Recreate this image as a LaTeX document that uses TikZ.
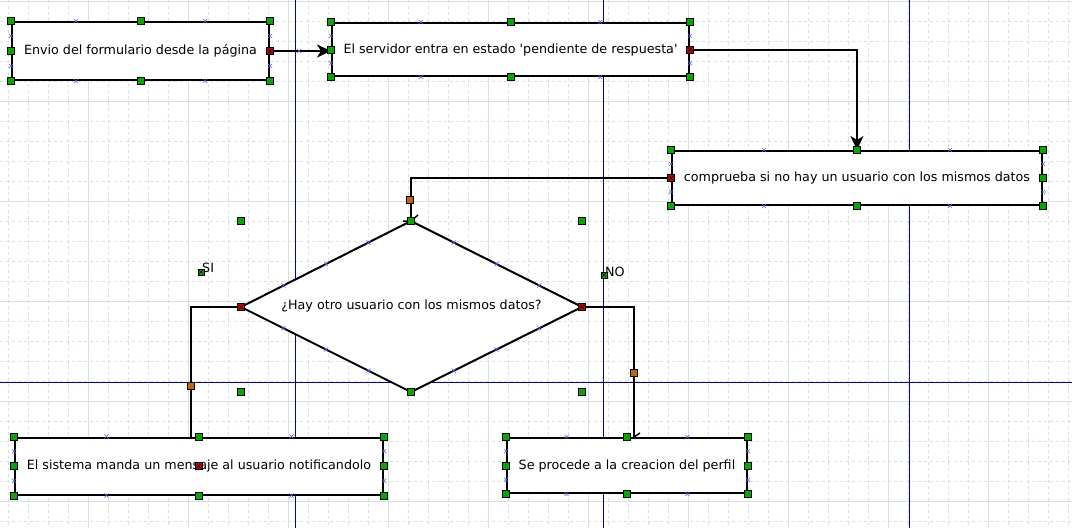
\documentclass[tikz,border=0pt]{standalone}
\usepackage{fontspec}
\setmainfont{DejaVu Sans}[Ligatures=TeXOff]
\usetikzlibrary{arrows.meta,shapes.misc,calc}
\definecolor{gridc}{RGB}{212,227,225}
\definecolor{guide}{RGB}{0,0,190}
\definecolor{hgreen}{RGB}{0,170,0}
\definecolor{hred}{RGB}{200,0,0}
\definecolor{horange}{RGB}{200,100,0}
\definecolor{xblue}{RGB}{90,90,255}
\tikzset{
  gridminor/.style={draw=gridc,line width=0.9pt,dash pattern=on 3pt off 3pt},
  gridmajor/.style={draw=gridc,line width=1pt},
  guideline/.style={draw=guide,line width=1pt},
  txt/.style={font=\fontsize{12.7}{14}\selectfont},
  box/.style={draw=black,line width=2pt,fill=white,rectangle,inner sep=0pt,txt},
  conn/.style={draw=black,line width=2pt},
  tip/.style={-{Stealth[length=14pt,width=13pt,inset=4pt]}},
  hnd/.style={rectangle,draw=black,line width=0.7pt,fill=hgreen,minimum size=7pt,inner sep=0pt},
  hndred/.style={hnd,fill=hred},
  hndor/.style={hnd,fill=horange},
  xm/.style={cross out,draw=xblue,line width=0.6pt,minimum size=3.5pt,inner sep=0pt},
  xin/.style={cross out,draw=black,line width=0.5pt,minimum size=4pt,inner sep=0pt},
  lab/.style={txt,inner sep=0pt}
}
\begin{document}
\begin{tikzpicture}[x=1pt,y=-1pt]
\useasboundingbox (0,0) rectangle (1072,528);
\fill[white] (0,0) rectangle (1072,528);
% grid
\foreach \x in {8,28,...,1068} \draw[gridminor] (\x,0) -- (\x,528);
\foreach \y in {1.7,21.7,...,528} \draw[gridminor] (0,\y) -- (1072,\y);
\foreach \x in {88,188,...,1068} \draw[gridmajor] (\x,0) -- (\x,528);
\foreach \y in {1.7,101.7,...,528} \draw[gridmajor] (0,\y) -- (1072,\y);
% guide lines
\draw[guideline] (295.5,0) -- (295.5,528);
\draw[guideline] (603.5,0) -- (603.5,528);
\draw[guideline] (909.5,0) -- (909.5,528);
\draw[guideline] (0,382.5) -- (1072,382.5);

% shapes
\node[box,minimum width=257pt,minimum height=58pt] (b1) at (140.5,51) {Envio del formulario desde la página};
\node[box,minimum width=357pt,minimum height=53pt] (b2) at (510.5,49.5) {El servidor entra en estado 'pendiente de respuesta'};
\node[box,minimum width=370pt,minimum height=54pt] (b3) at (857,178) {comprueba si no hay un usuario con los mismos datos};
\coordinate (dN) at (411,221);
\coordinate (dW) at (241,307);
\coordinate (dS) at (411,392);
\coordinate (dE) at (582,307);
\draw[line width=2pt,fill=white,line join=miter] (dN) -- (dE) -- (dS) -- (dW) -- cycle;
\node[txt,inner sep=0pt] (dec) at (411.5,306) {¿Hay otro usuario con los mismos datos?};
\node[box,minimum width=368pt,minimum height=57pt] (b4) at (199,466) {El sistema manda un mensaje al usuario notificandolo};
\node[box,minimum width=240pt,minimum height=55pt] (b5) at (627,465.5) {Se procede a la creacion del perfil};

% labels
\node[lab,anchor=base west] (si) at (202,272) {SI};
\node[lab,anchor=base west] (no) at (605,276) {NO};

% connectors
\coordinate (c4) at ([xshift=-8pt]b4.north);
\coordinate (c5) at ([xshift=7pt]b5.north);
\draw[conn,tip] (b1.east) -- (b1.east -| b2.west);
\draw[conn,tip] (b2.east) -| (b3.north);
\draw[conn] (b3.west) -| (dN);
\draw[conn] (dW) -| (c4);
\draw[conn] (dE) -| (c5);
% small partial arrow marks
\draw[line width=1.5pt] ([xshift=-8pt]dN) -- (dN) -- ++(7,-6);
\draw[line width=1.5pt] (c5) -- ++(6,-4);

% handles on boxes
\foreach \b in {b1,b2,b3,b4,b5}{
  \foreach \p/\q in {north west/north east,south west/south east,north west/south west,north east/south east}{
    \node[xm] at ($(\b.\p)!0.25!(\b.\q)$) {};
    \node[xm] at ($(\b.\p)!0.75!(\b.\q)$) {};
  }
  \foreach \a in {north west,north,north east,south west,south,south east}
    \node[hnd] at (\b.\a) {};
}
\node[hnd] at (b1.west) {};
\node[hndred] at (b1.east) {}; \node[xin] at (b1.east) {};
\node[hnd] at (b2.west) {};
\node[hndred] at (b2.east) {}; \node[xin] at (b2.east) {};
\node[hndred] at (b3.west) {}; \node[xin] at (b3.west) {};
\node[hnd] at (b3.east) {};
\node[hnd] at (b4.west) {};
\node[hnd] at (b4.east) {};
\node[hndred] at (b4.center) {}; \node[xin] at (b4.center) {};
\node[hnd] at (b5.west) {};
\node[hnd] at (b5.east) {};

% handles on diamond
\foreach \p/\q in {dN/dW,dW/dS,dS/dE,dE/dN}{
  \node[xm] at ($(\p)!0.25!(\q)$) {};
  \node[xm] at ($(\p)!0.5!(\q)$) {};
  \node[xm] at ($(\p)!0.75!(\q)$) {};
}
\node[hnd] at (dN) {};
\node[hnd] at (dS) {};
\node[hndred] at (dW) {}; \node[xin] at (dW) {};
\node[hndred] at (dE) {}; \node[xin] at (dE) {};
\node[hnd] at (dN -| dW) {};
\node[hnd] at (dN -| dE) {};
\node[hnd] at (dS -| dW) {};
\node[hnd] at (dS -| dE) {};

% connector midpoints
\node[hndor] at (410,200) {};
\node[hndor] at (191,386) {};
\node[hndor] at (634,373) {};
\node[xm] at (299,51) {};

% label handles
\node[hnd,minimum size=6pt] at (201,272) {}; \node[xin] at (201,272) {};
\node[hnd,minimum size=6pt] at (604,275) {}; \node[xin] at (604,275) {};
\end{tikzpicture}
\end{document}
